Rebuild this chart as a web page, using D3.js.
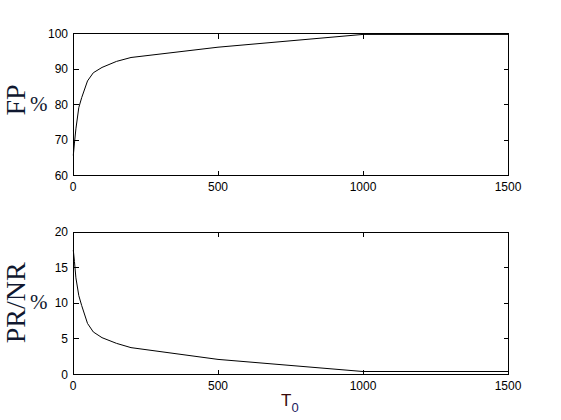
<!DOCTYPE html>
<html>
<head>
<meta charset="utf-8">
<script src="https://cdn.jsdelivr.net/npm/d3@7"></script>
<style>
  body { margin: 0; background: #fff; }
  svg text { font-family: "Liberation Sans", Arial, sans-serif; }
</style>
</head>
<body>
<div id="chart"></div>
<script>
// T0 values (x) shared by both panels
var t0 = [1, 5, 10, 20, 30, 50, 70, 100, 150, 200, 500, 1000, 1500];
// FP % (top panel)
var fp = [65.5, 69, 73, 79, 81.8, 86.5, 88.8, 90.3, 92, 93.1, 96, 99.6, 99.6];
// PR/NR % (bottom panel)
var prnr = [17.4, 15.8, 13.5, 11, 9.6, 7.1, 5.9, 5.1, 4.3, 3.7, 2.05, 0.35, 0.35];

var xTicks = [0, 500, 1000, 1500];
var fpTicks = [60, 70, 80, 90, 100];
var prTicks = [0, 5, 10, 15, 20];

var W = 561, H = 420;
var svg = d3.select("#chart").append("svg").attr("width", W).attr("height", H);

function panel(top, bottom, ys, yDomain, yTicks, label) {
  var x = d3.scaleLinear().domain([0, 1500]).range([73, 508]);
  var y = d3.scaleLinear().domain(yDomain).range([bottom, top]);
  var g = svg.append("g");
  var tick = 5;

  // frame
  g.append("rect")
    .attr("x", x(0) + 0.5).attr("y", y(yDomain[1]) + 0.5)
    .attr("width", x(1500) - x(0)).attr("height", y(yDomain[0]) - y(yDomain[1]))
    .attr("fill", "none").attr("stroke", "#000").attr("stroke-width", 1)
    .attr("shape-rendering", "crispEdges");

  // x ticks (inside, top and bottom)
  xTicks.forEach(function(v) {
    var xx = Math.round(x(v)) + 0.5;
    g.append("line").attr("x1", xx).attr("x2", xx)
      .attr("y1", bottom + 0.5).attr("y2", bottom + 0.5 - tick)
      .attr("stroke", "#000").attr("shape-rendering", "crispEdges");
    g.append("line").attr("x1", xx).attr("x2", xx)
      .attr("y1", top + 0.5).attr("y2", top + 0.5 + tick)
      .attr("stroke", "#000").attr("shape-rendering", "crispEdges");
    g.append("text").attr("x", x(v)).attr("y", bottom + 16)
      .attr("text-anchor", "middle").attr("font-size", 12).text(v);
  });

  // y ticks (inside, left and right)
  yTicks.forEach(function(v) {
    var yy = Math.round(y(v)) + 0.5;
    g.append("line").attr("x1", x(0) + 0.5).attr("x2", x(0) + 0.5 + tick)
      .attr("y1", yy).attr("y2", yy)
      .attr("stroke", "#000").attr("shape-rendering", "crispEdges");
    g.append("line").attr("x1", x(1500) + 0.5).attr("x2", x(1500) + 0.5 - tick)
      .attr("y1", yy).attr("y2", yy)
      .attr("stroke", "#000").attr("shape-rendering", "crispEdges");
    g.append("text").attr("x", 68).attr("y", y(v) + 4.5)
      .attr("text-anchor", "end").attr("font-size", 12).text(v);
  });

  // data line
  var line = d3.line().x(function(d, i) { return x(t0[i]); }).y(function(d) { return y(d); });
  g.append("path").datum(ys).attr("d", line)
    .attr("fill", "none").attr("stroke", "#000").attr("stroke-width", 1);

  // y label: rotated text + upright %
  var cy = (top + bottom) / 2;
  g.append("text")
    .attr("transform", "translate(25," + (cy + label.dy) + ")rotate(-90)")
    .attr("text-anchor", "middle")
    .style("font-family", "'Liberation Serif', 'Times New Roman', serif")
    .attr("font-size", 28).attr("fill", "#101830").text(label.text);
  g.append("text")
    .attr("x", 30).attr("y", cy + label.pdy)
    .style("font-family", "'Liberation Serif', 'Times New Roman', serif")
    .attr("font-size", 21).attr("fill", "#101830").text("%");
  return x;
}

panel(33, 175, fp, [60, 100], fpTicks, { text: "FP", dy: -4, pdy: 7 });
var x = panel(231.5, 374, prnr, [0, 20], prTicks, { text: "PR/NR", dy: 0, pdy: 6 });

// x label T0
var xl = svg.append("text").attr("x", 281).attr("y", 406).attr("font-size", 17).attr("fill", "#3a0a0a");
xl.append("tspan").text("T");
xl.append("tspan").attr("dy", 6).attr("font-size", 13).attr("fill", "#202060").text("0");
</script>
</body>
</html>
